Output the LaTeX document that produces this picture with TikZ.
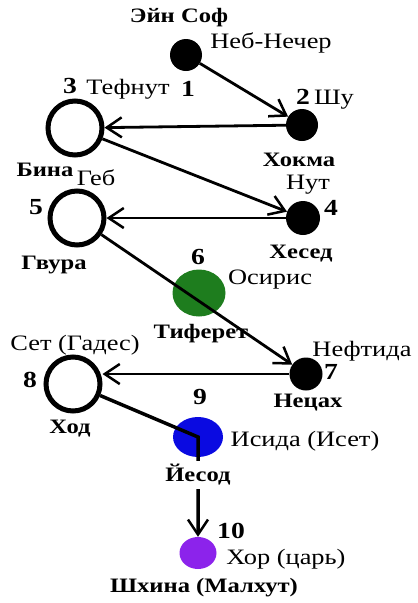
\documentclass[tikz,border=0pt]{standalone}
\usepackage{fontspec}
\setmainfont[FakeStretch=1.2]{Liberation Serif}
\usetikzlibrary{shapes.geometric, arrows.meta}
\definecolor{verde}{RGB}{30,125,30}
\definecolor{blu}{RGB}{10,10,225}
\definecolor{viola}{RGB}{140,35,235}
\tikzset{
  piena/.style={circle, fill=black, inner sep=0pt, minimum size=32pt},
  vuota/.style={circle, draw=black, line width=5pt, fill=white, inner sep=0pt, minimum size=54pt},
  ovale/.style={ellipse, inner sep=0pt},
  freccia/.style={line width=2.8pt, -{Straight Barb[length=15pt, width=20pt, line width=2.5pt]}},
  nome/.style={font=\fontsize{22}{24}\selectfont, inner sep=0pt},
  sefira/.style={font=\bfseries\fontsize{20.5}{22}\selectfont, inner sep=0pt},
  numero/.style={font=\bfseries\fontsize{23}{25}\selectfont, inner sep=0pt},
}
\begin{document}
\begin{tikzpicture}[x=1pt, y=-1pt]
    \useasboundingbox (0,0) rectangle (418,603);
    % Sefirot
    \node[piena] (n1) at (186,55) {};
    \node[piena] (n2) at (302,125) {};
    \node[vuota] (n3) at (75,128) {};
    \node[piena, minimum size=34pt] (n4) at (303,218) {};
    \node[vuota] (n5) at (77,218) {};
    \node[ovale, fill=verde, minimum width=53pt, minimum height=47pt] (n6) at (199,293) {};
    \node[piena, minimum size=33pt] (n7) at (306,374) {};
    \node[vuota] (n8) at (73,384) {};
    \node[ovale, fill=blu, minimum width=50pt, minimum height=40pt] (n9) at (198,437) {};
    \node[ovale, fill=viola, minimum width=37pt, minimum height=32pt] (n10) at (198,553) {};
    % frecce
    \draw[freccia] (n1) -- (n2);
    \draw[freccia] (n2) -- (n3);
    \draw[freccia] (n3) -- (n4);
    \draw[freccia] (n4) -- (n5);
    \draw[freccia] (n5) -- (n7);
    \draw[freccia] (n7) -- (n7 -| n8.east);
    \draw[freccia, line width=3.5pt] (n8) -- (n9.center) -- (n10);
    % etichette
    \node[sefira] (ein) at (179,18) {Эйн Соф};
    \node[nome] (neb) at (271,43) {Неб-Нечер};
    \node[numero] (k1) at (188,89) {1};
    \node[numero] (k3) at (70,86) {3};
    \node[nome] (tef) at (128,89) {Тефнут};
    \node[numero] (k2) at (303,97) {2};
    \node[nome] (shu) at (334,100) {Шу};
    \node[sefira] (hok) at (299,160) {Хокма};
    \node[sefira] (bin) at (45,170) {Бина};
    \node[nome] (geb) at (96,178) {Геб};
    \node[nome] (nut) at (308,185) {Нут};
    \node[numero] (k5) at (36,207) {5};
    \node[numero] (k4) at (331,208) {4};
    \node[sefira] (hes) at (301,254) {Хесед};
    \node[sefira] (gvu) at (54,265) {Гвура};
    \node[numero] (k6) at (198,257) {6};
    \node[nome] (osi) at (270,280) {Осирис};
    \node[sefira] (tif) at (201,334) {Тиферет};
    \node[nome] (set) at (75,345) {Сет (Гадес)};
    \node[nome] (nef) at (362,351) {Нефтида};
    \node[numero] (k8) at (30,380) {8};
    \node[numero] (k7) at (331,372) {7};
    \node[numero] (k9) at (200,397) {9};
    \node[sefira] (nez) at (308,403) {Нецах};
    \node[sefira] (hod) at (70,429) {Ход};
    \node[nome] (isi) at (305,441) {Исида (Исет)};
    \node[sefira, fill=white, inner sep=3pt] (jes) at (198,475) {Йесод};
    \node[numero] (k10) at (231,531) {10};
    \node[nome] (hor) at (286,559) {Хор (царь)};
    \node[sefira] (shk) at (204,588) {Шхина (Малхут)};
\end{tikzpicture}
\end{document}
